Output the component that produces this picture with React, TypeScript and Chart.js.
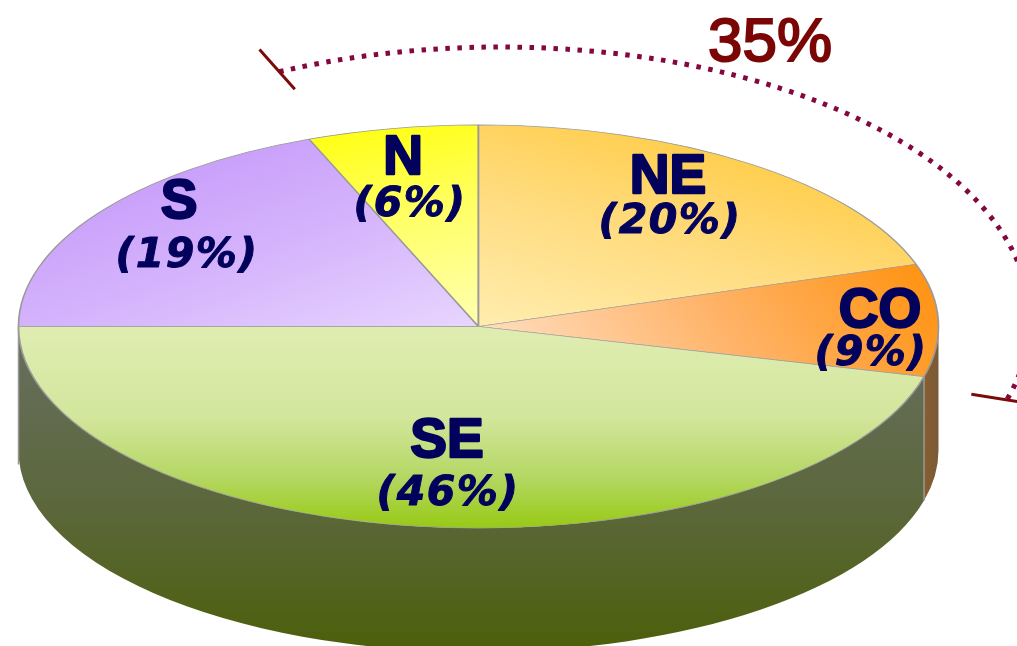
import React, { useEffect, useRef } from "react";
import { Chart, registerables } from "chart.js";

Chart.register(...registerables);

// Regional shares, clockwise from the western edge of the disc
const regions = ["S", "N", "NE", "CO", "SE"];
const shares = [19, 6, 20, 9, 46];
const shareLabels = ["(19%)", "(6%)", "(20%)", "(9%)", "(46%)"];
const bracketLabel = "35%";
const bracketFirst = 1; // N
const bracketLast = 3; // CO

// Fill ramps, given in units of the pie radius around its centre
const sliceRamps: { line: number[]; stops: [number, string][] }[] = [
  { line: [-0.8, -0.9, -0.05, 0.05], stops: [[0, "#c597fa"], [0.55, "#d6b6fc"], [1, "#e8d6ff"]] },
  { line: [-0.3, -1, 0.05, -0.1], stops: [[0, "#ffff10"], [0.5, "#ffff66"], [1, "#ffffa8"]] },
  { line: [0.6, -0.95, 0, 0], stops: [[0, "#ffcb42"], [0.5, "#ffdc80"], [1, "#ffedaf"]] },
  { line: [0.98, -0.2, 0.05, 0.1], stops: [[0, "#ff9414"], [0.5, "#ffb368"], [1, "#ffdcbc"]] },
  { line: [0, 0, 0, 1], stops: [[0, "#e0edb2"], [0.45, "#d2e69c"], [0.75, "#b4d762"], [1, "#97ca14"]] },
];

// Disc geometry on the page
const disc = { cx: 478.5, cy: 326.5, rx: 460, ry: 201.5, depth: 124 };
const bracket = { dx: 21.5, dy: -6.5, rx: 530, ry: 273, padStart: 3, padEnd: 2.6 };

// Where each label block sits: name centre, share centre
const labelAnchors = [
  [179, 203, 187, 256],
  [403, 159, 410, 205],
  [668, 178, 670, 222],
  [880, 312, 871, 354],
  [447, 442, 448, 494],
];

const wallPlugin = {
  id: "tiltedDisc",
  beforeDatasetsDraw(chart: any) {
    const { ctx } = chart;
    const arcs = chart.getDatasetMeta(0).data;
    const { cx, cy, rx, ry, depth } = disc;
    ctx.save();
    const spans = [[0, Math.PI], [2 * Math.PI, 3 * Math.PI]];
    arcs.forEach((arc: any, i: number) => {
      spans.forEach(([a, b]) => {
        const lo = Math.max(arc.startAngle, a);
        const hi = Math.min(arc.endAngle, b);
        if (hi <= lo) return;
        ctx.beginPath();
        ctx.ellipse(cx, cy, rx, ry, 0, lo, hi);
        ctx.ellipse(cx, cy + depth, rx, ry, 0, hi, lo, true);
        ctx.closePath();
        let fill;
        if (regions[i] === "CO") {
          fill = ctx.createLinearGradient(cx + rx * 0.96, 0, cx + rx, 0);
          fill.addColorStop(0, "#8a5f2c");
          fill.addColorStop(1, "#7a5a38");
        } else {
          fill = ctx.createLinearGradient(0, cy + 40, 0, cy + ry + depth);
          fill.addColorStop(0, "#656d58");
          fill.addColorStop(0.5, "#5b673a");
          fill.addColorStop(1, "#4c5f0a");
        }
        ctx.fillStyle = fill;
        ctx.fill();
      });
    });
    // Seams on the rim
    ctx.strokeStyle = "#989898";
    ctx.lineWidth = 1.5;
    const seam = arcs[bracketLast].endAngle;
    const sx = cx + rx * Math.cos(seam);
    const sy = cy + ry * Math.sin(seam);
    ctx.beginPath();
    ctx.moveTo(sx, sy);
    ctx.lineTo(sx, sy + depth);
    ctx.moveTo(cx - rx, cy);
    ctx.lineTo(cx - rx, cy + depth + 14);
    ctx.stroke();
    ctx.restore();

    // The pie itself is drawn round and squashed into the tilted ellipse
    const R = arcs[0].outerRadius;
    ctx.save();
    ctx.translate(cx, cy);
    ctx.scale(rx / R, ry / R);
    ctx.translate(-arcs[0].x, -arcs[0].y);
  },
  afterDatasetsDraw(chart: any) {
    const { ctx } = chart;
    ctx.restore();
    const arcs = chart.getDatasetMeta(0).data;

    // Region names and their shares
    ctx.save();
    ctx.fillStyle = "#02025c";
    ctx.strokeStyle = "#02025c";
    ctx.textAlign = "center";
    ctx.textBaseline = "middle";
    ctx.lineJoin = "round";
    regions.forEach((name, i) => {
      const [nx, ny, sx, sy] = labelAnchors[i];
      ctx.letterSpacing = "0px";
      ctx.lineWidth = 2.4;
      ctx.font = "bold 55px 'Liberation Sans'";
      ctx.fillText(name, nx, ny);
      ctx.strokeText(name, nx, ny);
      ctx.letterSpacing = "1.5px";
      ctx.lineWidth = 1;
      ctx.font = "italic bold 41px 'DejaVu Sans'";
      ctx.fillText(shareLabels[i], sx, sy);
      ctx.strokeText(shareLabels[i], sx, sy);
    });
    ctx.restore();

    // Dotted bracket over the regions that add up to the stated share
    const bx = disc.cx + bracket.dx;
    const by = disc.cy + bracket.dy;
    const a0 = arcs[bracketFirst].startAngle - (bracket.padStart * Math.PI) / 180;
    const a1 = arcs[bracketLast].endAngle + (bracket.padEnd * Math.PI) / 180;
    ctx.save();
    ctx.strokeStyle = "#84083f";
    ctx.lineWidth = 5;
    ctx.setLineDash([4.5, 7.5]);
    ctx.beginPath();
    ctx.ellipse(bx, by, bracket.rx, bracket.ry, 0, a0, a1);
    ctx.stroke();
    ctx.setLineDash([]);
    ctx.strokeStyle = "#7c0a0a";
    ctx.lineWidth = 3;
    [a0, a1].forEach((a) => {
      const px = bracket.rx * Math.cos(a);
      const py = bracket.ry * Math.sin(a);
      ctx.beginPath();
      ctx.moveTo(bx + px * 0.93, by + py * 0.93);
      ctx.lineTo(bx + px * 1.09, by + py * 1.09);
      ctx.stroke();
    });
    ctx.fillStyle = "#7a0606";
    ctx.strokeStyle = "#7a0606";
    ctx.lineWidth = 2;
    ctx.font = "62px 'Liberation Sans'";
    ctx.textAlign = "center";
    ctx.textBaseline = "middle";
    ctx.fillText(bracketLabel, 770, 44);
    ctx.strokeText(bracketLabel, 770, 44);
    ctx.restore();
  },
};

export default function App() {
  const ref = useRef<HTMLCanvasElement>(null);
  useEffect(() => {
    document.body.style.margin = "0";
    const chart = new Chart(ref.current!, {
      type: "pie",
      data: {
        labels: regions,
        datasets: [
          {
            data: shares,
            clip: false,
            borderColor: "#9a9a9a",
            borderWidth: 1.2,
            backgroundColor: (c: any) => {
              const area = c.chart.chartArea;
              const ramp = sliceRamps[c.dataIndex];
              if (!area || !ramp) return "#cccccc";
              const mx = (area.left + area.right) / 2;
              const my = (area.top + area.bottom) / 2;
              const R = Math.min(area.right - area.left, area.bottom - area.top) / 2;
              const [x0, y0, x1, y1] = ramp.line;
              const g = c.chart.ctx.createLinearGradient(mx + x0 * R, my + y0 * R, mx + x1 * R, my + y1 * R);
              ramp.stops.forEach(([p, col]) => g.addColorStop(p, col));
              return g;
            },
          } as any,
        ],
      },
      options: {
        animation: false,
        responsive: false,
        rotation: 270,
        plugins: { legend: { display: false }, tooltip: { enabled: false } },
      },
      plugins: [wallPlugin],
    } as any);
    return () => chart.destroy();
  }, []);
  return <canvas ref={ref} width={1017} height={646} style={{ display: "block" }} />;
}
